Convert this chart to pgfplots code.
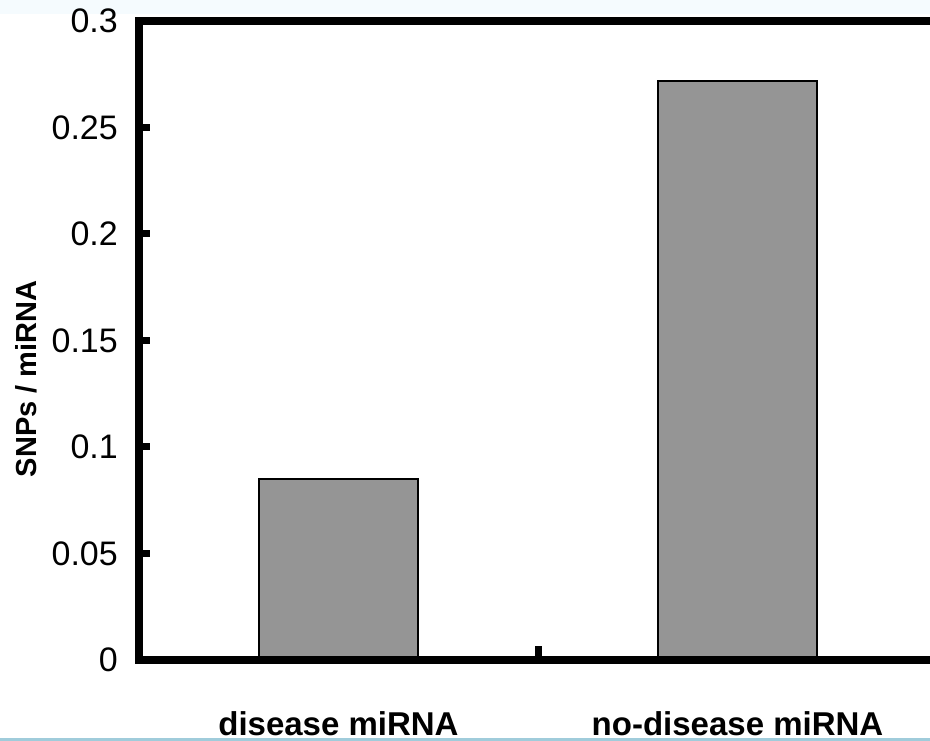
\documentclass[border=0pt]{standalone}
\usepackage{pgfplots}
\pgfplotsset{compat=1.18}
\usepackage{fontspec}
\setmainfont{Liberation Sans}

\definecolor{barfill}{HTML}{959595}
\definecolor{topband}{HTML}{F5FBFE}
\definecolor{botband}{HTML}{A0CCDB}

\begin{document}
\begin{tikzpicture}
% page = 930 x 741 px, axis box lower-left at (139px, 660px from top)
\useasboundingbox (-139bp,-81bp) rectangle (791bp,660bp);
\clip (-139bp,-81bp) rectangle (791bp,660bp);
\fill[topband] (-139bp,646bp) rectangle (791bp,660bp);
\fill[botband] (-139bp,-81bp) rectangle (791bp,-78bp);
\begin{axis}[
  at={(0,0)}, anchor=south west,
  scale only axis, width=798bp, height=639bp,
  xmin=0.5, xmax=2.5, ymin=0, ymax=0.3,
  axis on top,
  axis line style={line width=8bp, line cap=rect},
  tick pos=left,
  major tick length=11bp,
  xtick={1,2},
  xticklabels={disease miRNA, no-disease miRNA},
  xtick style={draw=none},
  extra x ticks={1.5},
  extra x tick labels={},
  extra x tick style={major tick length=14bp, xtick style={draw=black, line width=7bp}},
  xticklabel style={font=\fontsize{33bp}{35bp}\selectfont\bfseries, anchor=base, yshift=-75bp},
  ytick={0,0.05,0.1,0.15,0.2,0.25,0.3},
  yticklabels={0,0.05,0.1,0.15,0.2,0.25,0.3},
  ytick style={draw=black, line width=7bp},
  yticklabel style={font=\fontsize{34bp}{36bp}\selectfont, anchor=east, inner sep=0pt, xshift=-21bp},
  ylabel={SNPs / miRNA},
  every axis y label/.style={at={(axis description cs:-0.141,0.44)}, rotate=90, anchor=center,
    font=\fontsize{29bp}{31bp}\selectfont\bfseries},
]
\addplot[ybar, bar width=0.4, fill=barfill, draw=black, line width=1.8bp]
  coordinates {(1,0.0848) (2,0.272)};
\end{axis}
\end{tikzpicture}
\end{document}
